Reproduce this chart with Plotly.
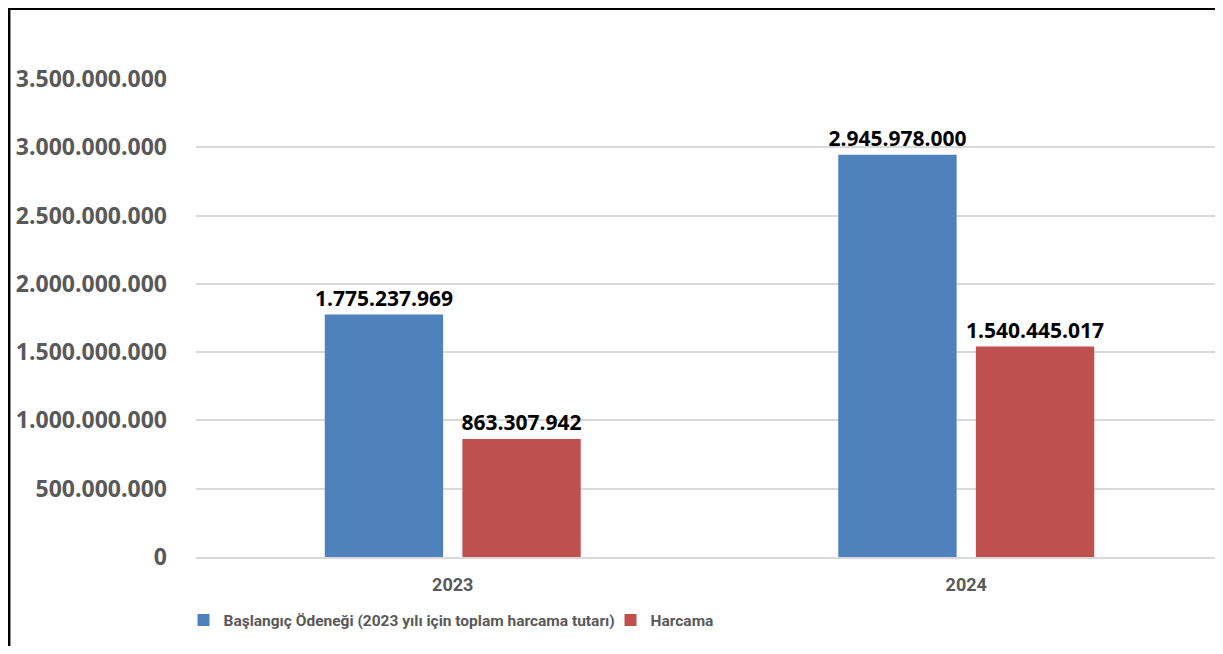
import plotly.graph_objects as go

categories = ["2023", "2024"]
series_names = ["Başlangıç Ödeneği (2023 yılı için toplam harcama tutarı)", "Harcama"]
baslangic = [1775237969, 2945978000]
harcama = [863307942, 1540445017]
tick_vals = [0, 500000000, 1000000000, 1500000000, 2000000000, 2500000000, 3000000000, 3500000000]
tick_text = ["0", "500.000.000", "1.000.000.000", "1.500.000.000", "2.000.000.000",
             "2.500.000.000", "3.000.000.000", "3.500.000.000"]

def fmt(v):
    return f"{v:,}".replace(",", ".")

# page has an 8px body margin; figure coordinates = page coordinates - 8
W, H = 1207, 638
ML, MT = 188, 71
MB = H - 549
MR = 0
PW, PH = W - ML - MR, H - MT - MB
CAT_PX = 513.5  # pixels per category in the reference

fig = go.Figure()
colors = ["#4F81BD", "#C0504D"]
for name, vals, col in zip(series_names, [baslangic, harcama], colors):
    fig.add_trace(go.Bar(
        x=categories, y=vals, name=name, marker=dict(color=col, line=dict(width=0)),
        text=[fmt(v) for v in vals], textposition="outside", cliponaxis=False,
        constraintext="none",
        textfont=dict(family="Open Sans", size=21, color="#000000", weight="bold"),
    ))

def px_x(p):
    return (p - ML) / PW

def px_y(p):
    return 1 - (p - MT) / PH

shapes = [
    dict(type="line", xref="paper", yref="paper", x0=px_x(1.2), x1=px_x(1.2),
         y0=px_y(0), y1=px_y(700), line=dict(color="black", width=2.5)),
    dict(type="line", xref="paper", yref="paper", x0=px_x(0), x1=px_x(1300),
         y0=px_y(0.8), y1=px_y(0.8), line=dict(color="black", width=2.2)),
]

legend_font = dict(family="Roboto", size=15.5, color="#595959", weight="bold")

fig.update_layout(
    width=W, height=H, margin=dict(l=ML, r=MR, t=MT, b=MB, autoexpand=False, pad=0),
    paper_bgcolor="white", plot_bgcolor="white",
    barmode="group", bargap=0.464, bargroupgap=0.14,
    shapes=shapes,
    showlegend=True,
    legend=dict(orientation="h", x=px_x(175.5), y=px_y(612.5), xanchor="left", yanchor="middle",
                entrywidth=382, font=legend_font, itemwidth=30, tracegroupgap=0),
    xaxis=dict(showline=True, linecolor="#D9D9D9", linewidth=2, ticks="",
               range=[-0.5, -0.5 + PW / CAT_PX],
               tickfont=dict(family="Roboto", size=18, color="#595959", weight="bold"),
               ticklabelstandoff=10),
    yaxis=dict(range=[0, 3500000000], tickvals=tick_vals, ticktext=tick_text,
               showgrid=True, gridcolor="#D9D9D9", gridwidth=2, zeroline=False,
               tickfont=dict(family="Open Sans", size=23, color="#595959", weight="bold"),
               ticklabelstandoff=28, ticks=""),
    font=dict(family="Open Sans"),
)

fig.write_html("out.html")
